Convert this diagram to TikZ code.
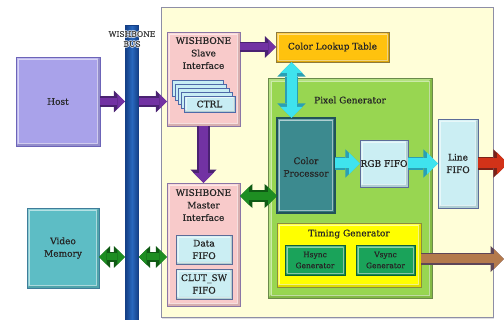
\documentclass[tikz,border=0pt]{standalone}
\usepackage{fontspec}
\setmainfont{DejaVu Serif}[FakeBold=0.6]
\usetikzlibrary{arrows.meta,shadows,calc}

% block fills and outlines
\definecolor{corefill}{HTML}{FFFED8}
\definecolor{coreline}{HTML}{8E8EA6}
\definecolor{busmid}{HTML}{2868BE}
\definecolor{busdark}{HTML}{143F86}
\definecolor{hostfill}{HTML}{A9A2EA}
\definecolor{hostline}{HTML}{6C64B8}
\definecolor{wbfill}{HTML}{F8CACA}
\definecolor{wbline}{HTML}{8A76A6}
\definecolor{cardfill}{HTML}{C8EDF4}
\definecolor{cardline}{HTML}{4F69A8}
\definecolor{cltfill}{HTML}{FFC20E}
\definecolor{cltline}{HTML}{8F7A3A}
\definecolor{pgfill}{HTML}{98D651}
\definecolor{pgline}{HTML}{6A8A4A}
\definecolor{cpfill}{HTML}{3C8A8F}
\definecolor{cpline}{HTML}{22525A}
\definecolor{fifofill}{HTML}{CBEEF3}
\definecolor{fifoline}{HTML}{5C6C98}
\definecolor{vmfill}{HTML}{5DBDC5}
\definecolor{vmline}{HTML}{3F7D9A}
\definecolor{tgfill}{HTML}{FFFF00}
\definecolor{tgline}{HTML}{8C8C3C}
\definecolor{syncfill}{HTML}{1AA35A}
\definecolor{syncline}{HTML}{0F5E3A}
\definecolor{txt}{HTML}{262626}
% block arrow colours
\definecolor{apurple}{HTML}{7232A3}
\definecolor{apurpleln}{HTML}{4A2272}
\definecolor{acyan}{HTML}{3FE3EE}
\definecolor{acyanln}{HTML}{2A9FB4}
\definecolor{agreen}{HTML}{1E8E22}
\definecolor{agreenln}{HTML}{0F5A14}
\definecolor{ared}{HTML}{D23218}
\definecolor{aredln}{HTML}{7A2218}
\definecolor{abrown}{HTML}{B47A4C}
\definecolor{abrownln}{HTML}{5E4658}

\tikzset{
  bevel/.style={path picture={
    \fill[white,opacity=.28]
      (path picture bounding box.north west) -- (path picture bounding box.north east)
      -- ([shift={(-#1,-#1)}]path picture bounding box.north east)
      -- ([shift={(#1,-#1)}]path picture bounding box.north west)
      -- ([shift={(#1,#1)}]path picture bounding box.south west)
      -- (path picture bounding box.south west) -- cycle;
    \fill[black,opacity=.13]
      (path picture bounding box.south west) -- (path picture bounding box.south east)
      -- (path picture bounding box.north east)
      -- ([shift={(-#1,-#1)}]path picture bounding box.north east)
      -- ([shift={(-#1,#1)}]path picture bounding box.south east)
      -- ([shift={(#1,#1)}]path picture bounding box.south west) -- cycle;
    \draw[white,opacity=.5,line width=.6pt]
      ([shift={(#1,-#1)}]path picture bounding box.north west) rectangle
      ([shift={(-#1,#1)}]path picture bounding box.south east);
  }},
  bevel/.default=2.4pt,
  blk/.style 2 args={draw=#2, fill=#1, line width=.9pt, inner sep=0pt,
    outer sep=0pt, anchor=north west,
    drop shadow={opacity=.25, shadow xshift=1pt, shadow yshift=-1pt}},
  lbl/.style={text=txt, font=\fontsize{9}{12.5}\selectfont, align=center, inner sep=0pt},
  small/.style={text=txt, font=\fontsize{7.5}{11}\selectfont, align=center, inner sep=0pt},
  buslabel/.style={small, font=\fontsize{7.6}{10}\selectfont},
  fat/.style 2 args={draw=#1, -{Triangle[width=0pt 2.15,length=0pt 1.1,line width=0pt]},
    preaction={draw=#2, line width=\pgflinewidth+1.6pt}},
  fatboth/.style 2 args={draw=#1,
    {Triangle[width=0pt 2.15,length=0pt 1.1,line width=0pt]}-{Triangle[width=0pt 2.15,length=0pt 1.1,line width=0pt]},
    preaction={draw=#2, line width=\pgflinewidth+1.6pt}},
}

\begin{document}
\begin{tikzpicture}[x=1pt,y=-1pt]
\useasboundingbox[fill=white] (0,0) rectangle (504,320);

% core area and wishbone bus
\node[blk={corefill}{coreline}, line width=1pt, minimum width=332pt, minimum height=310pt] (core) at (161,8) {};
\node[draw=busdark, line width=.8pt, left color=busdark, right color=busdark, middle color=busmid,
      anchor=north west, minimum width=13pt, minimum height=300pt, inner sep=0pt] (bus) at (125,25) {};
% bus caption with a soft white halo
\foreach \i/\dx/\dy in {1/.7/0,2/-.7/0,3/0/.7,4/0/-.7,5/.5/.5,6/-.5/-.5,7/.5/-.5,8/-.5/.5}
  \node[buslabel, text=white, opacity=.55] (buslblhalo\i) at (132+\dx,39+\dy) {WISHBONE\\BUS};
\node[buslabel, text=black!75] (buslbl) at (132,39) {WISHBONE\\BUS};

% external blocks
\node[blk={hostfill}{hostline}, bevel, minimum width=84pt, minimum height=89pt] (host) at (16,57) {};
\node[lbl] (hosttxt) at (host.center) {Host};
\node[blk={vmfill}{vmline}, bevel, minimum width=72pt, minimum height=80pt] (vm) at (27,208) {};
\node[lbl] (vmtxt) at (vm.center) {Video\\Memory};

% wishbone slave interface with control registers
\node[blk={wbfill}{wbline}, bevel, minimum width=73pt, minimum height=94pt] (slave) at (167,32) {};
\node[lbl, anchor=north] (slavetxt) at (203.5,37) {WISHBONE\\Slave\\Interface};
\foreach \i/\x/\y in {1/172/80,2/175/84,3/178/88,4/181/92}
  \node[blk={cardfill}{cardline}, line width=.7pt, drop shadow={opacity=0}, minimum width=51pt, minimum height=16pt] (card\i) at (\x,\y) {};
\node[blk={cardfill}{cardline}, bevel=1.8pt, line width=.7pt, minimum width=51pt, minimum height=16pt] (ctrl) at (184,96) {};
\node[lbl] (ctrltxt) at (ctrl.center) {CTRL};

% wishbone master interface with fifos
\node[blk={wbfill}{wbline}, bevel, minimum width=73pt, minimum height=123pt] (master) at (167,183) {};
\node[lbl, anchor=north] (mastertxt) at (203.5,189) {WISHBONE\\Master\\Interface};
\node[blk={fifofill}{fifoline}, bevel=2pt, minimum width=56pt, minimum height=29pt] (dfifo) at (176,235) {};
\node[lbl] (dfifotxt) at (dfifo.center) {Data\\FIFO};
\node[blk={fifofill}{fifoline}, bevel=2pt, minimum width=56pt, minimum height=30pt] (cfifo) at (176,269) {};
\node[lbl] (cfifotxt) at (cfifo.center) {CLUT\_SW\\FIFO};

% colour lookup table
\node[blk={cltfill}{cltline}, bevel=2pt, minimum width=113pt, minimum height=30pt] (clt) at (276,32) {};
\node[lbl] (clttxt) at (clt.center) {Color Lookup Table};

% pixel generator
\node[blk={pgfill}{pgline}, bevel=3pt, minimum width=164pt, minimum height=220pt] (pg) at (268,78) {};
\node[lbl] (pgtxt) at (350,100) {Pixel Generator};
\node[blk={cpfill}{cpline}, bevel=2.6pt, line width=1.3pt,
      drop shadow={opacity=.45, shadow xshift=.8pt, shadow yshift=-.8pt},
      minimum width=58pt, minimum height=95pt] (cp) at (277,118) {};
\node[lbl] (cptxt) at (306,167) {Color\\Processor};
\node[blk={fifofill}{fifoline}, bevel, minimum width=48pt, minimum height=47pt] (rgb) at (360,140) {};
\node[lbl] (rgbtxt) at (rgb.center) {RGB FIFO};
\node[blk={fifofill}{fifoline}, bevel, minimum width=40pt, minimum height=89pt] (line) at (438,119) {};
\node[lbl] (linetxt) at (line.center) {Line\\FIFO};

% timing generator
\node[blk={tgfill}{tgline}, bevel=2.6pt, minimum width=144pt, minimum height=64pt] (tg) at (277,223) {};
\node[lbl] (tgtxt) at (349,234) {Timing Generator};
\node[blk={syncfill}{syncline}, bevel=2pt, minimum width=60pt, minimum height=30pt] (hs) at (285,245) {};
\node[small] (hstxt) at (hs.center) {Hsync\\Generator};
\node[blk={syncfill}{syncline}, bevel=2pt, minimum width=59pt, minimum height=30pt] (vs) at (356,245) {};
\node[small] (vstxt) at (vs.center) {Vsync\\Generator};

% helper points for the connectors
\coordinate (cpt) at ($(cp.north west)!0.25!(cp.north east)$);
\coordinate (mc) at ([yshift=-13pt]master.north east);
\coordinate (vmc) at ([yshift=-9pt]vm.east);
\coordinate (tgc) at ([yshift=-4pt]tg.east);
\coordinate (rgbout) at (508,163.5);
\coordinate (syncout) at (504,259);

% connectors
\draw[fat={apurple}{apurpleln}, line width=7pt] (host.east) -- (bus.west|-host.east);
\draw[fat={apurple}{apurpleln}, line width=7pt] (bus.east|-host.east) -- (slave.west|-host.east);
\draw[fat={apurple}{apurpleln}, line width=7pt] (slave.east|-clt.west) -- (clt.west);
\draw[fat={apurple}{apurpleln}, line width=9pt] (slave.south) -- (master.north);
\draw[fatboth={acyan}{acyanln}, line width=10pt] (cpt|-clt.south) -- (cpt);
\draw[fat={acyan}{acyanln}, line width=10pt] (cp.east|-rgb.west) -- (rgb.west);
\draw[fat={acyan}{acyanln}, line width=10pt] (rgb.east) -- (line.west|-rgb.east);
\draw[fat={ared}{aredln}, line width=10pt] (line.east|-rgbout) -- (rgbout);
\draw[fatboth={agreen}{agreenln}, line width=8pt] (mc) -- (mc-|cp.west);
\draw[fatboth={agreen}{agreenln}, line width=7pt] (vmc) -- (vmc-|bus.west);
\draw[fatboth={agreen}{agreenln}, line width=7pt] (vmc-|bus.east) -- (vmc-|master.west);
\draw[fat={abrown}{abrownln}, line width=9pt] (tgc) -- (syncout);
\end{tikzpicture}
\end{document}
